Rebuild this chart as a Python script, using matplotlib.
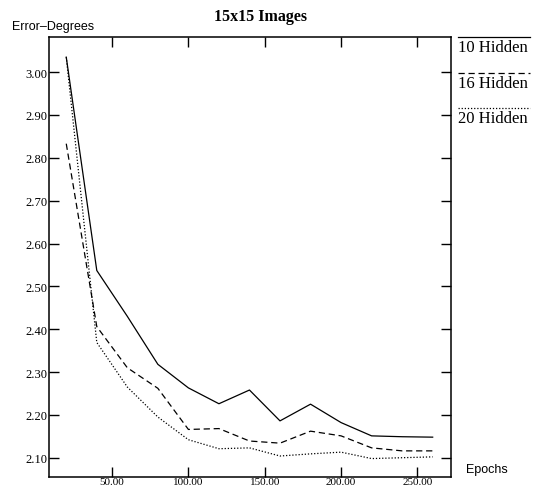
import matplotlib
matplotlib.use('Agg')
import matplotlib.pyplot as plt
from matplotlib.lines import Line2D

# Data
epochs = [20, 40, 60, 80, 100, 120, 140, 160, 180, 200, 220, 240, 260]
err_10 = [3.035, 2.537, 2.43, 2.318, 2.263, 2.226, 2.258, 2.186, 2.225, 2.182, 2.151, 2.149, 2.148]
err_16 = [2.833, 2.406, 2.31, 2.262, 2.166, 2.168, 2.139, 2.134, 2.162, 2.151, 2.123, 2.116, 2.116]
err_20 = [3.035, 2.369, 2.265, 2.195, 2.142, 2.121, 2.123, 2.104, 2.109, 2.113, 2.098, 2.100, 2.102]
series_labels = ['10 Hidden', '16 Hidden', '20 Hidden']
xticks = [50, 100, 150, 200, 250]
yticks = [2.10, 2.20, 2.30, 2.40, 2.50, 2.60, 2.70, 2.80, 2.90, 3.00]

W, H = 535, 489
fig = plt.figure(figsize=(W / 100, H / 100), dpi=100)
ax = fig.add_axes([49 / W, 1 - 478 / H, (451 - 49) / W, (478 - 38) / H])

styles = [dict(linestyle='-'),
          dict(linestyle=(0, (5, 3))),
          dict(linestyle=(0, (1, 1.5)))]
for ys, st in zip([err_10, err_16, err_20], styles):
    ax.plot(epochs, ys, color='black', linewidth=0.9, **st)

ax.set_xlim(8.7, 272)
ax.set_ylim(2.055, 3.082)
ax.set_xticks(xticks)
ax.set_xticklabels(['{:.2f}'.format(v) for v in xticks])
ax.set_yticks(yticks)
ax.set_yticklabels(['{:.2f}'.format(v) for v in yticks])
ax.tick_params(direction='in', length=7.5, width=1, top=True, right=True,
               labelsize=9, pad=1)
ax.tick_params(axis='x', labelsize=8, pad=0)
for lab in ax.get_xticklabels() + ax.get_yticklabels():
    lab.set_family('Liberation Serif')
for sp in ax.spines.values():
    sp.set_linewidth(1.1)

fig.text(260 / W, 1 - 17 / H, '15x15 Images', family='Liberation Serif',
         fontweight='bold', fontsize=11.5, ha='center', va='center')
fig.text(12 / W, 1 - 27 / H, 'Error\u2013Degrees', family='Liberation Sans',
         fontsize=9, ha='left', va='center')
fig.text(466 / W, 1 - 470 / H, 'Epochs', family='Liberation Sans',
         fontsize=9, ha='left', va='center')

# legend outside the axes: line above each label
leg_y = [38, 74, 109]
for lab, st, ly in zip(series_labels, styles, leg_y):
    fig.add_artist(Line2D([458 / W, 530 / W], [1 - ly / H] * 2,
                          transform=fig.transFigure, color='black',
                          linewidth=0.9, **st))
    fig.text(458 / W, 1 - (ly + 10) / H, lab, family='Liberation Serif',
             fontsize=12, ha='left', va='center')

fig.savefig('out.png', dpi=100)
